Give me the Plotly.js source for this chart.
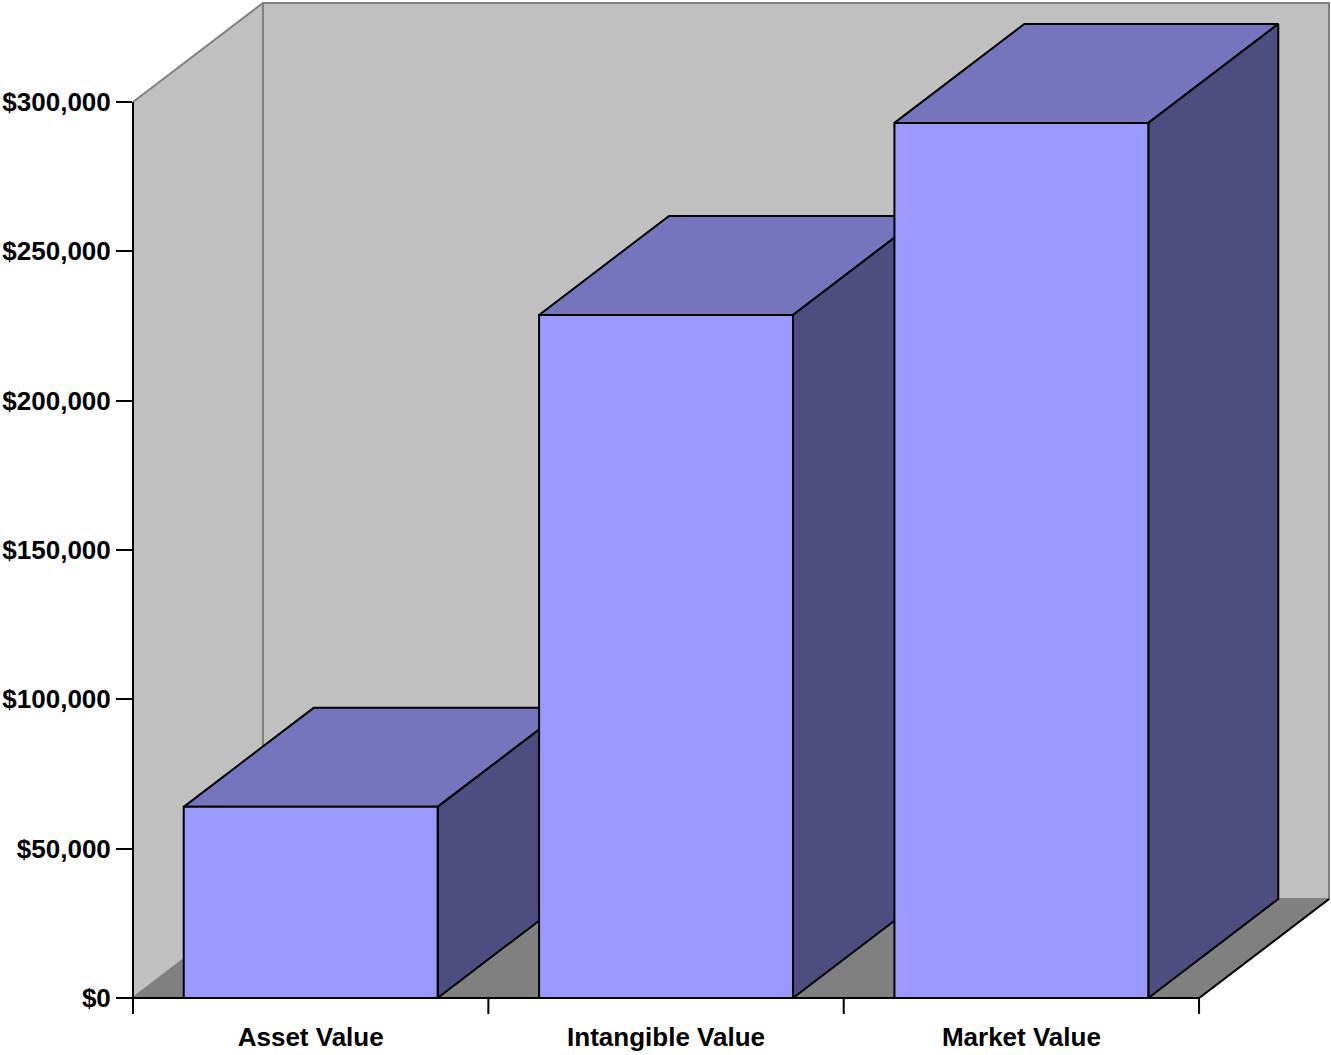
<!DOCTYPE html>
<html>
<head>
<meta charset="utf-8">
<script src="https://cdn.plot.ly/plotly-3.0.1.min.js"></script>
<style>html,body{margin:0;padding:0;background:#fff;}#chart{width:1331px;height:1055px;}</style>
</head>
<body>
<div id="chart"></div>
<script>
// ---- data ----
const categories = ['Asset Value', 'Intangible Value', 'Market Value'];
const values = [64000, 228700, 293000];
const yTickValues = [0, 50000, 100000, 150000, 200000, 250000, 300000];
const yTickText = ['$0', '$50,000', '$100,000', '$150,000', '$200,000', '$250,000', '$300,000'];
const yMax = 300000;

// ---- style / geometry ----
const DX = 0.3657;      // depth offset in category units
const DY = 33147;       // depth offset in value units
const BAR_W = 0.7145;   // bar width in category units
const N = categories.length;
const FRONT = '#9999FF', TOP = '#7575BE', SIDE = '#4D4D80';
const WALL = '#C0C0C0', FLOOR = '#808080', EDGE = '#808080';
const FONT = 'Liberation Sans, Arial, sans-serif';

function poly(xs, ys, fill, lineColor, lineWidth) {
  return {
    type: 'scatter', mode: 'lines',
    x: xs.concat([xs[0]]), y: ys.concat([ys[0]]),
    fill: 'toself', fillcolor: fill,
    line: {color: lineColor, width: lineWidth},
    hoverinfo: 'skip', showlegend: false
  };
}
function seg(xs, ys, color, width) {
  return {type: 'scatter', mode: 'lines', x: xs, y: ys,
    line: {color: color, width: width}, hoverinfo: 'skip', showlegend: false};
}

const traces = [];
// back wall
traces.push(poly([DX, DX, N + DX, N + DX], [DY, yMax + DY, yMax + DY, DY], WALL, EDGE, 2));
// left wall
traces.push(poly([0, 0, DX, DX], [0, yMax, yMax + DY, DY], WALL, EDGE, 2));
// floor
traces.push(poly([0, N, N + DX, DX], [0, 0, DY, DY], FLOOR, EDGE, 2));
traces.push(seg([N, N + DX], [0, DY], '#000', 2));

// bars
values.forEach(function (v, i) {
  const c = i + 0.5;
  const x0 = c - BAR_W / 2, x1 = c + BAR_W / 2;
  traces.push(poly([x0, x1, x1 + DX, x0 + DX], [v, v, v + DY, v + DY], TOP, '#000', 2));
  traces.push(poly([x1, x1, x1 + DX, x1 + DX], [0, v, v + DY, DY], SIDE, '#000', 2));
  traces.push(poly([x0, x0, x1, x1], [0, v, v, 0], FRONT, '#000', 2));
});

const tickLen = 16;
const plotH = 997;
const shapes = [
  // y axis line (0 .. yMax)
  {type: 'line', xref: 'paper', yref: 'y', x0: 0, x1: 0, y0: 0, y1: yMax, line: {color: '#000', width: 2}, layer: 'above'},
  // x axis line
  {type: 'line', xref: 'x', yref: 'paper', x0: 0, x1: N, y0: 0, y1: 0, line: {color: '#000', width: 2}, layer: 'above'},
  // tick at x = 0
  {type: 'line', xref: 'paper', yref: 'paper', x0: 0, x1: 0, y0: 0, y1: -tickLen / plotH, line: {color: '#000', width: 2}, layer: 'above'}
];
for (let k = 1; k <= N; k++) {
  shapes.push({type: 'line', xref: 'x', yref: 'paper', x0: k, x1: k, y0: 0, y1: -tickLen / plotH, line: {color: '#000', width: 2}, layer: 'above'});
}

const layout = {
  width: 1331, height: 1055,
  margin: {l: 133, r: 0, t: 1, b: 57, pad: 0},
  paper_bgcolor: '#fff', plot_bgcolor: 'rgba(0,0,0,0)',
  font: {family: FONT, color: '#000', size: 26, weight: 'bold'},
  showlegend: false,
  xaxis: {
    range: [0, N + DX + 0.0056], showgrid: false, zeroline: false, showline: false,
    tickmode: 'array', tickvals: categories.map(function (_, i) { return i + 0.5; }), ticktext: categories,
    ticks: 'outside', ticklen: tickLen, tickcolor: 'rgba(0,0,0,0)',
    tickfont: {family: FONT, size: 26, color: '#000', weight: 'bold'}, fixedrange: true
  },
  yaxis: {
    range: [0, 333817], showgrid: false, zeroline: false, showline: false,
    tickmode: 'array', tickvals: yTickValues, ticktext: yTickText,
    ticks: 'outside', ticklen: tickLen, tickwidth: 2, tickcolor: '#000',
    tickfont: {family: FONT, size: 26, color: '#000', weight: 'bold'}, fixedrange: true
  },
  shapes: shapes
};

Plotly.newPlot('chart', traces, layout, {displayModeBar: false, staticPlot: true});
</script>
</body>
</html>
